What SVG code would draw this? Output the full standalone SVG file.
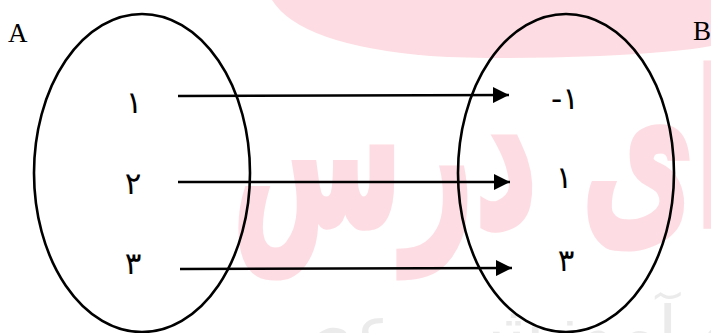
<svg xmlns="http://www.w3.org/2000/svg" width="711" height="333" viewBox="0 0 711 333">
  <style>
    .set { fill: none; stroke: #000; stroke-width: 2.6; }
    .arr { stroke: #000; stroke-width: 2.4; fill: none; marker-end: url(#ah); }
    .num { font-family: "DejaVu Sans", sans-serif; font-size: 31px; fill: #000; text-anchor: middle; }
    .lbl { font-family: "Liberation Serif", serif; font-size: 27px; fill: #000; }
    .wm { fill: #fddde3; }
  </style>
  <defs>
    <marker id="ah" markerUnits="userSpaceOnUse" markerWidth="16" markerHeight="16" refX="16" refY="8" orient="auto">
      <path d="M0,0 L16,8 L0,16 Z" fill="#000"/>
    </marker>
  </defs>
  <rect width="711" height="333" fill="#fff"/>
  <g id="watermark">
    <path class="wm" d="M272,0 Q300,45 430,56 Q500,60 600,56 Q680,52 711,46 L711,0 Z"/>
    <text x="232" y="226" font-family="DejaVu Sans, sans-serif" font-weight="bold" font-size="215" fill="#fddde3" stroke="#fddde3" stroke-width="5" textLength="505" lengthAdjust="spacingAndGlyphs">ای درس</text>
    <text x="250" y="350" font-family="DejaVu Sans, sans-serif" font-size="62" fill="#ebebeb" textLength="490" lengthAdjust="spacingAndGlyphs">ه آموزشی عصر</text>
  </g>
  <g id="setA">
    <ellipse class="set" cx="142" cy="173" rx="108" ry="159"/>
    <text class="lbl" x="8" y="42">A</text>
  </g>
  <g id="setB">
    <ellipse class="set" cx="566" cy="173" rx="108" ry="159"/>
    <text class="lbl" x="693" y="40">B</text>
  </g>
  <g id="a1"><text class="num" x="134" y="113">١</text></g>
  <g id="a2"><text class="num" x="133" y="194">٢</text></g>
  <g id="a3"><text class="num" x="133" y="274">٣</text></g>
  <g id="b1"><text class="num" x="565" y="109" direction="ltr" unicode-bidi="bidi-override">-١</text></g>
  <g id="b2"><text class="num" x="564" y="188">١</text></g>
  <g id="b3"><text class="num" x="566" y="271">٣</text></g>
  <g id="connectors">
    <line class="arr" x1="178" y1="96" x2="509" y2="95"/>
    <line class="arr" x1="178" y1="182" x2="510" y2="182"/>
    <line class="arr" x1="180" y1="269" x2="512" y2="268"/>
  </g>
</svg>
